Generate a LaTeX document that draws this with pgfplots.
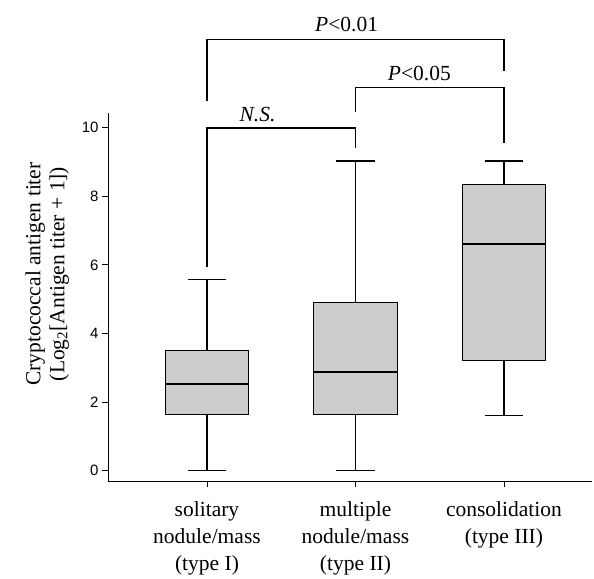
\documentclass[border=0pt]{standalone}
\usepackage{fontspec}
\setmainfont{Liberation Serif}
\setsansfont{Liberation Sans}
\usepackage{pgfplots}
\pgfplotsset{compat=1.18}
\usepgfplotslibrary{statistics}
\definecolor{boxfill}{RGB}{204,204,204}
\begin{document}
\begin{tikzpicture}
\useasboundingbox (-108pt,-97pt) rectangle (486pt,481pt);
\begin{axis}[
  scale only axis,
  width=484pt, height=368pt,
  xmin=0.3333, xmax=3.593,
  ymin=-0.30, ymax=10.43,
  axis x line*=bottom, axis y line*=left,
  axis line style={line width=0.9pt, -},
  tick align=outside,
  major tick length=6pt,
  tick style={line width=0.9pt, black},
  xtick={1,2,3},
  xticklabels={{solitary\\nodule/mass\\(type I)},{multiple\\nodule/mass\\(type II)},{consolidation\\(type III)}},
  xticklabel style={align=center, font=\fontsize{21.5}{27}\selectfont, yshift=-11pt},
  ytick={0,2,4,6,8,10},
  yticklabel style={font=\sffamily\fontsize{15}{17}\selectfont},
  /pgf/number format/assume math mode=true,
  ylabel={Cryptococcal antigen titer\\(Log\textsubscript{2}[Antigen titer + 1])},
  ylabel style={align=center, font=\fontsize{21.5}{24}\selectfont, at={(ticklabel cs:0.5625,6pt)}, anchor=near ticklabel},
  clip=false,
  boxplot/draw direction=y,
  boxplot/box extend=0.56,
  boxplot/whisker extend=0.26,
  boxplot/every box/.style={draw=black, line width=1pt, fill=boxfill},
  boxplot/every median/.style={draw=black, line width=1.8pt},
  boxplot/every whisker/.style={draw=black, line width=1.3pt},
]
\addplot[boxplot prepared={draw position=1, lower whisker=0, lower quartile=1.63, median=2.53, upper quartile=3.51, upper whisker=5.57}] coordinates {};
\addplot[boxplot prepared={draw position=2, lower whisker=0, lower quartile=1.63, median=2.87, upper quartile=4.89, upper whisker=9.03}] coordinates {};
\addplot[boxplot prepared={draw position=3, lower whisker=1.60, lower quartile=3.21, median=6.61, upper quartile=8.34, upper whisker=9.03}] coordinates {};
% significance brackets
\addplot[black, line width=1.6pt, sharp plot, mark=none] coordinates {(1,5.93) (1,10.0) (2,10.0) (2,9.40)};
\addplot[black, line width=1.6pt, sharp plot, mark=none] coordinates {(2,10.47) (2,11.17) (3,11.17) (3,9.55)};
\addplot[black, line width=1.6pt, sharp plot, mark=none] coordinates {(1,10.77) (1,12.57) (3,12.57) (3,11.66)};
\node[anchor=base, font=\fontsize{21.5}{24}\selectfont] at (axis cs:1.34,10.17) {\textit{N.S.}};
\node[anchor=base, font=\fontsize{21.5}{24}\selectfont] at (axis cs:2.43,11.39) {\textit{P}<0.05};
\node[anchor=base, font=\fontsize{21.5}{24}\selectfont] at (axis cs:1.94,12.80) {\textit{P}<0.01};
\end{axis}
\end{tikzpicture}
\end{document}
